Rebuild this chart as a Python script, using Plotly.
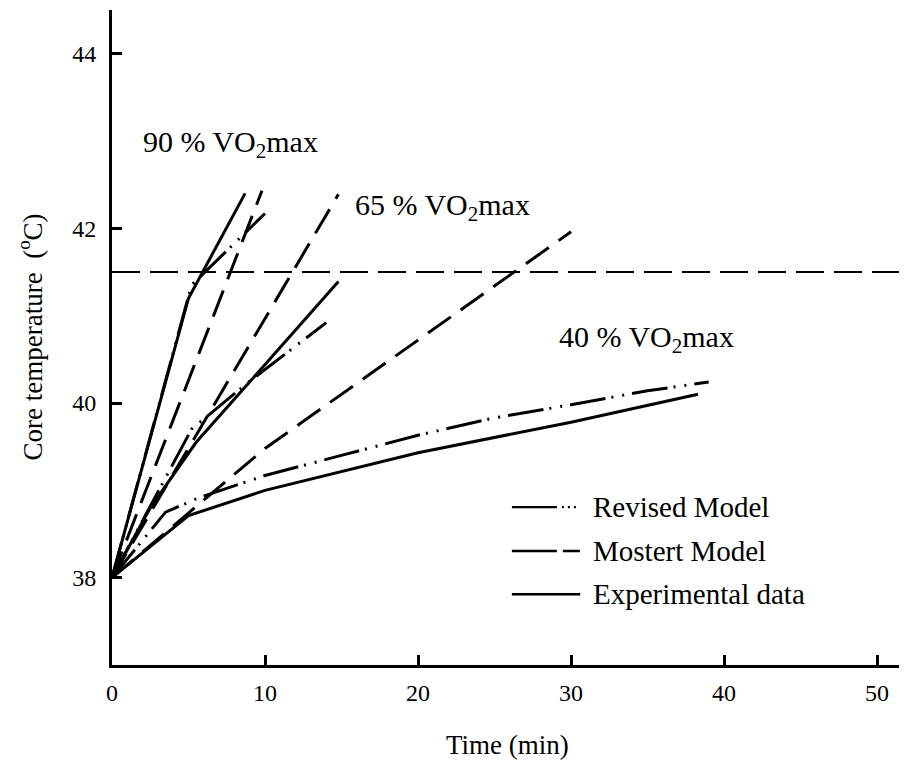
import plotly.graph_objects as go

# ---------------- data ----------------
# Experimental data (solid)
exp90_t = [0, 5.0, 8.7]
exp90_c = [38.0, 41.2, 42.4]
exp65_t = [0, 2.5, 5.5, 14.8]
exp65_c = [38.0, 38.8, 39.55, 41.39]
exp40_t = [0, 5.0, 10.0, 20.0, 30.0, 38.3]
exp40_c = [38.0, 38.71, 39.0, 39.43, 39.78, 40.1]

# Mostert model (dashed)
mos90_t = [0, 9.8]
mos90_c = [38.0, 42.43]
mos65_t = [0, 14.8]
mos65_c = [38.0, 42.39]
mos40_t = [0, 10.0, 20.0, 30.0]
mos40_c = [38.0, 39.48, 40.72, 41.96]

# Revised model (dash-dot-dot)
rev90_t = [0, 5.2, 10.0]
rev90_c = [38.0, 41.35, 42.17]
rev65_t = [0, 5.2, 9.0, 14.0]
rev65_c = [38.0, 39.7, 40.25, 40.92]
rev40_t = [0, 3.5, 5.75, 10.0, 15.0, 20.0, 25.0, 30.0, 35.0, 39.0]
rev40_c = [38.0, 38.75, 38.92, 39.17, 39.4, 39.63, 39.83, 39.98, 40.14, 40.24]

threshold_c = 41.5

x_ticks = [0, 10, 20, 30, 40, 50]
y_ticks = [38, 40, 42, 44]

intensity_labels = ["90 % VO<sub>2</sub>max", "65 % VO<sub>2</sub>max", "40 % VO<sub>2</sub>max"]
legend_names = ["Revised Model", "Mostert Model", "Experimental data"]
x_title = "Time (min)"
y_title = "Core temperature  (<sup>o</sup>C)"

# ---------------- styles ----------------
FONT = "Liberation Serif, Times New Roman, serif"
REV_DASH = "36px,6px,2px,9px,2px,8px"
MOS_DASH = "28px,12px"
LW = 3

fig = go.Figure()

def add_line(t, c, dash):
    fig.add_trace(go.Scatter(x=t, y=c, mode="lines", showlegend=False,
                             line=dict(color="black", width=LW, dash=dash)))

for t, c in [(rev90_t, rev90_c), (rev65_t, rev65_c), (rev40_t, rev40_c)]:
    add_line(t, c, REV_DASH)
for t, c in [(mos90_t, mos90_c), (mos65_t, mos65_c), (mos40_t, mos40_c)]:
    add_line(t, c, MOS_DASH)
for t, c in [(exp90_t, exp90_c), (exp65_t, exp65_c), (exp40_t, exp40_c)]:
    add_line(t, c, "solid")

# threshold line
fig.add_hline(y=threshold_c, line=dict(color="black", width=2, dash="28px,10px"))

# intensity labels
label_pos = [(1.9, 42.96), (15.75, 42.25), (29.1, 40.73)]
for txt, (lx, ly) in zip(intensity_labels, label_pos):
    fig.add_annotation(x=lx, y=ly, text=txt, showarrow=False, xanchor="left",
                       yanchor="middle", font=dict(family=FONT, size=30, color="black"))

# manual legend (paper coordinates)
leg_rows = [0.241, 0.174, 0.108]
leg_dash = ["45px,5px,2px,4px,2px,4px,2px,40px", "45px,6px,17px,60px", "solid"]
for name, yy, dsh in zip(legend_names, leg_rows, leg_dash):
    fig.add_shape(type="line", xref="paper", yref="paper", x0=0.503, x1=0.589,
                  y0=yy, y1=yy, line=dict(color="black", width=2.4, dash=dsh))
    fig.add_annotation(xref="paper", yref="paper", x=0.603, y=yy, text=name,
                       showarrow=False, xanchor="left", yanchor="middle",
                       font=dict(family=FONT, size=29, color="black"))

# axis titles as annotations
fig.add_annotation(xref="paper", yref="paper", x=0.497, y=0, yshift=-80, text=x_title,
                   showarrow=False, xanchor="center", yanchor="middle",
                   font=dict(family=FONT, size=27, color="black"))
fig.add_annotation(xref="paper", yref="paper", x=0, y=0.5, xshift=-82, text=y_title,
                   textangle=-90, showarrow=False, xanchor="center", yanchor="middle",
                   font=dict(family=FONT, size=27, color="black"))

# the page body adds an 8px margin, so the figure is 8px smaller on each side
fig.update_layout(
    width=899, height=757,
    margin=dict(l=104, r=0, t=2, b=100, autoexpand=False),
    paper_bgcolor="white", plot_bgcolor="white",
    font=dict(family=FONT, color="black"),
    showlegend=False,
)
fig.update_xaxes(
    range=[0, 51.96], tickvals=x_ticks, ticks="inside", ticklen=10, tickwidth=2.5,
    tickcolor="black", showline=True, linewidth=3, linecolor="black",
    showgrid=False, zeroline=False, tickfont=dict(family=FONT, size=24),
    ticklabelstandoff=4, automargin=False,
)
fig.update_yaxes(
    range=[37.0, 44.5], tickvals=y_ticks, ticks="inside", ticklen=10, tickwidth=2.5,
    tickcolor="black", showline=True, linewidth=3, linecolor="black",
    showgrid=False, zeroline=False, tickfont=dict(family=FONT, size=24),
    ticklabelstandoff=8, automargin=False,
)

fig.write_html("out.html")
